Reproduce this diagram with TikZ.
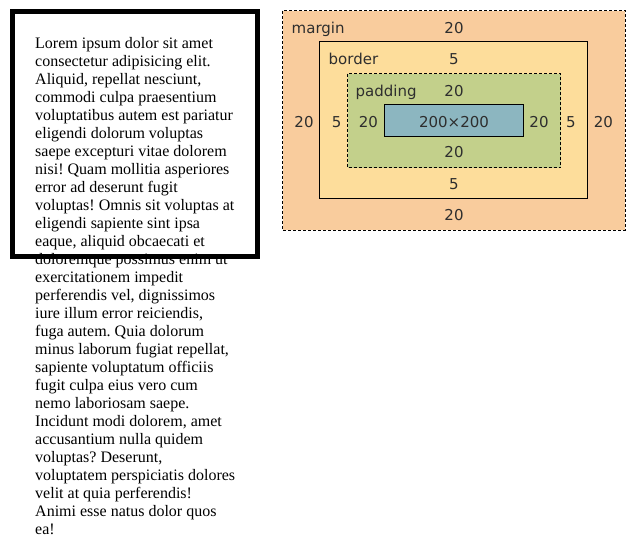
\documentclass[tikz,border=0pt]{standalone}
\usepackage{fontspec}
\setmainfont{Liberation Serif}
\newfontfamily\labelfont{DejaVu Sans}
\frenchspacing
\definecolor{mcol}{HTML}{F9CC9D}
\definecolor{bcol}{HTML}{FDDD9B}
\definecolor{pcol}{HTML}{C3D08B}
\definecolor{ccol}{HTML}{8CB6C0}
\definecolor{lbl}{HTML}{2E2E2E}
\begin{document}
\begin{tikzpicture}[x=1pt,y=-1pt,
  loremtext/.style={anchor=base west,inner sep=0pt,font=\fontsize{16}{18}\selectfont,text=black},
  boxlabel/.style={anchor=base,inner sep=0pt,font=\labelfont\fontsize{15}{18}\selectfont,text=lbl},
  dashbox/.style={draw=black,line width=1pt,dash pattern=on 3pt off 2pt},
  solidbox/.style={draw=black,line width=1pt}]
\useasboundingbox (0,0) rectangle (639,549);
\fill[white] (0,0) rectangle (639,549);
% text
\foreach \t [count=\i] in {
 {Lorem ipsum dolor sit amet},
 {consectetur adipisicing elit.},
 {Aliquid, repellat nesciunt,},
 {commodi culpa praesentium},
 {voluptatibus autem est pariatur},
 {eligendi dolorum voluptas},
 {saepe excepturi vitae dolorem},
 {nisi! Quam mollitia asperiores},
 {error ad deserunt fugit},
 {voluptas! Omnis sit voluptas at},
 {eligendi sapiente sint ipsa},
 {eaque, aliquid obcaecati et},
 {doloremque possimus enim ut},
 {exercitationem impedit},
 {perferendis vel, dignissimos},
 {iure illum error reiciendis,},
 {fuga autem. Quia dolorum},
 {minus laborum fugiat repellat,},
 {sapiente voluptatum officiis},
 {fugit culpa eius vero cum},
 {nemo laboriosam saepe.},
 {Incidunt modi dolorem, amet},
 {accusantium nulla quidem},
 {voluptas? Deserunt,},
 {voluptatem perspiciatis dolores},
 {velit at quia perferendis!},
 {Animi esse natus dolor quos},
 {ea!}}
 { \node[loremtext] (line\i) at (35,{48.4+18*(\i-1)}) {\t}; }
% black box
\draw[line width=5pt] (12.5,11.5) rectangle (257.5,256.5);
% box model
\path[fill=mcol,dashbox] (282.5,10.5) rectangle (625,230);
\path[fill=bcol,solidbox] (319.5,41.5) rectangle (587.5,198.5);
\path[fill=pcol,dashbox] (347.5,73.5) rectangle (560.5,167.5);
\path[fill=ccol,solidbox] (384.5,104.5) rectangle (523.5,136.5);
% labels
\node[boxlabel,anchor=base west] (mlab) at (291.5,33.2) {margin};
\node[boxlabel] (mtop) at (454,33.2) {20};
\node[boxlabel,anchor=base west] (blab) at (328.5,64.2) {border};
\node[boxlabel] (btop) at (454,64.2) {5};
\node[boxlabel,anchor=base west] (plab) at (355.5,96.2) {padding};
\node[boxlabel] (ptop) at (454,96.2) {20};
\node[boxlabel] (content) at (454,127.3) {200×200};
\node[boxlabel] (mleft) at (304,127.3) {20};
\node[boxlabel] (bleft) at (336.7,127.3) {5};
\node[boxlabel] (pleft) at (368.3,127.3) {20};
\node[boxlabel] (pright) at (539,127.3) {20};
\node[boxlabel] (bright) at (571,127.3) {5};
\node[boxlabel] (mright) at (603.3,127.3) {20};
\node[boxlabel] (pbot) at (454,157.3) {20};
\node[boxlabel] (bbot) at (454,189) {5};
\node[boxlabel] (mbot) at (454,220.6) {20};
\end{tikzpicture}
\end{document}
